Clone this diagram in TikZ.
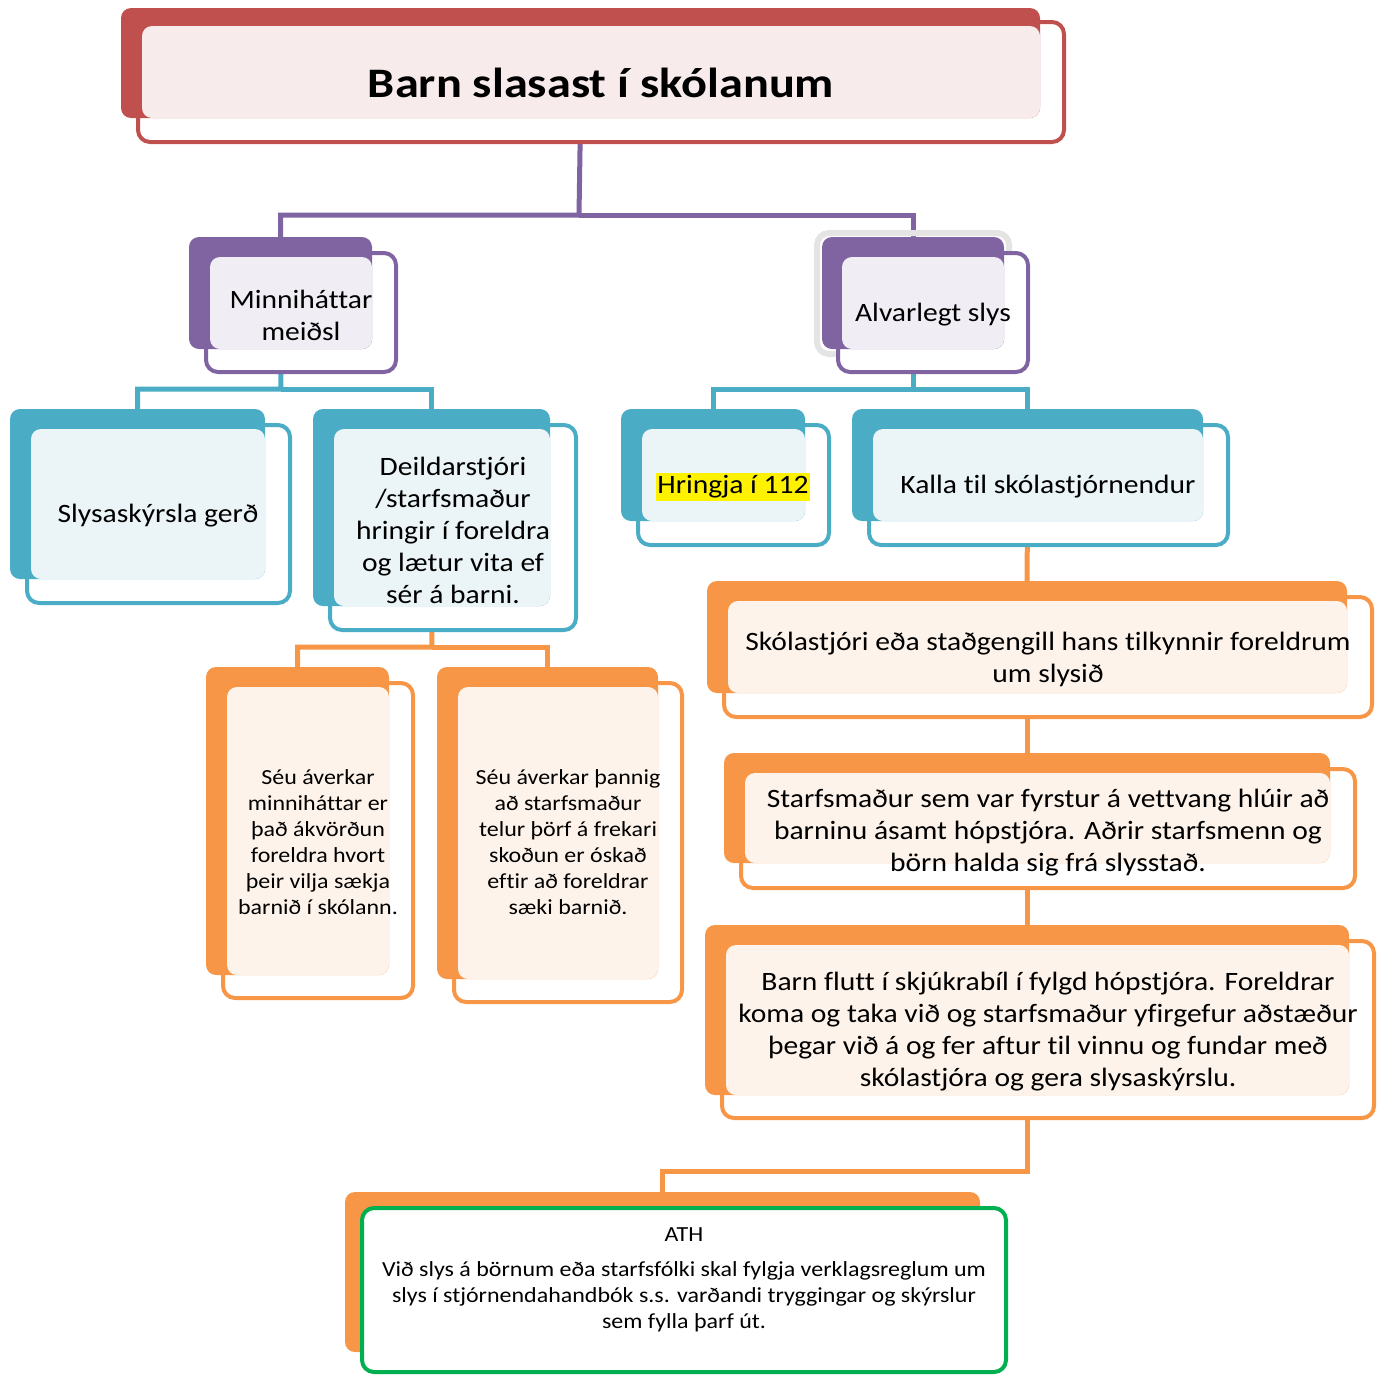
\documentclass[tikz,border=0pt]{standalone}
\usepackage{fontspec}
\setmainfont{Carlito}[FakeStretch=1.115, Ligatures=NoCommon]
\newfontfamily\titlefont{Carlito}[FakeStretch=1.15, Ligatures=NoCommon]
\usetikzlibrary{fit,calc}
\pgfdeclarelayer{bg}
\pgfsetlayers{bg,main}
\definecolor{cred}{HTML}{C0504D}
\definecolor{credtint}{HTML}{F7EBEB}
\definecolor{cpur}{HTML}{8064A2}
\definecolor{cpurtint}{HTML}{F0EEF4}
\definecolor{cteal}{HTML}{4BACC6}
\definecolor{ctealtint}{HTML}{EBF4F7}
\definecolor{corg}{HTML}{F79646}
\definecolor{corgtint}{HTML}{FEF3EA}
\definecolor{cgrn}{HTML}{00B050}
\definecolor{cglow}{HTML}{E4E4E4}
\tikzset{
  cardfront/.style={draw=#1, fill=white, line width=4pt, rounded corners=12pt, inner sep=0pt},
  cardback/.style={fill=#1, draw=none, rounded corners=10pt, inner sep=0pt},
  txt/.style={font=\fontsize{26.5}{32}\selectfont, align=center, inner sep=0pt, yshift=-2pt},
  smalltxt/.style={font=\fontsize{21.5}{26}\selectfont, align=center, inner sep=0pt},
  conn/.style={draw=#1, line width=5pt},
}
% #1 name, #2 colour, #3 back x1,y1, #4 back x2,y2, #5 front x1,y1, #6 front x2,y2
\newcommand\mycard[6]{%
  \coordinate (#1-f1) at (#5); \coordinate (#1-f2) at (#6);
  \coordinate (#1-b1) at (#3); \coordinate (#1-b2) at (#4);
  \node[cardfront=#2, fit=(#1-f1)(#1-f2)] (#1) {};
  \node[cardback=#2, fit=(#1-b1)(#1-b2)] (#1-b) {};
  \fill[#2tint, rounded corners=10pt] ($(#1-f1)+(4,4)$) rectangle (#1-b2);
}
\begin{document}
\begin{tikzpicture}[x=1pt,y=-1pt]
\useasboundingbox (0,0) rectangle (1382,1374);

% title
\mycard{title}{cred}{121,8}{1040,118}{138,22}{1064,142}
\node[font=\titlefont\fontsize{42}{50}\selectfont\bfseries, inner sep=0pt] (title-t) at (601,83) {Barn slasast í skólanum};

% level 2
\mycard{minni}{cpur}{189,237}{372,349}{206,253}{396,372}
\node[txt] (minni-t) at (301,313) {Minnih\'attar\\meiðsl};

\draw[cglow, line width=6pt, rounded corners=12pt] (817,233) rectangle (1009,354);
\mycard{alv}{cpur}{822,237}{1004,349}{838,253}{1028,372}
\node[txt] (alv-t) at (933,313) {Alvarlegt slys};

% level 3
\mycard{slysa}{cteal}{10,409}{265,579}{27,425}{290,603}
\node[txt] (slysa-t) at (158,514) {Slysaskýrsla gerð};

\mycard{deild}{cteal}{313,409}{550,606}{330,425}{576,630}
\node[txt] (deild-t) at (453,528) {Deildarstjóri\\/starfsmaður\\hringir í foreldra\\og lætur vita ef\\sér á barni.};

\mycard{hring}{cteal}{621,409}{805,521}{638,425}{829,545}
\node[txt, fill=yellow, inner xsep=1.5pt, inner ysep=3pt] (hring-t) at (733,485) {Hringja í 112};

\mycard{kalla}{cteal}{852,409}{1203,521}{869,425}{1228,545}
\node[txt] (kalla-t) at (1048,485) {Kalla til skólastjórnendur};

% level 4 left
\mycard{seu}{corg}{206,667}{389,975}{223,683}{413,998}
\node[smalltxt] (seu-t) at (318,842) {Séu áverkar\\minnih\'attar er\\það ákvörðun\\foreldra hvort\\þeir vilja sækja\\barnið í skólann.};

\mycard{seub}{corg}{437,667}{658,979}{454,683}{682,1002}
\node[smalltxt] (seub-t) at (568,842) {Séu áverkar þannig\\að starfsmaður\\telur þörf á frekari\\skoðun er óskað\\eftir að foreldrar\\sæki barnið.};

% right column
\mycard{skola}{corg}{707,581}{1347,693}{724,597}{1372,717}
\node[txt] (skola-t) at (1048,657) {Skólastjóri eða staðgengill hans tilkynnir foreldrum\\um slysið};

\mycard{starf}{corg}{724,753}{1330,863}{741,769}{1355,888}
\node[txt] (starf-t) at (1048,831) {Starfsmaður sem var fyrstur á vettvang hlúir að\\barninu ásamt hópstjóra. Aðrir starfsmenn og\\börn halda sig frá slysstað.};

\mycard{flutt}{corg}{705,925}{1349,1095}{722,941}{1374,1118}
\node[txt] (flutt-t) at (1048,1030) {Barn flutt í skjúkrabíl í fylgd hópstjóra. Foreldrar\\koma og taka við og starfsmaður yfirgefur aðstæður\\þegar við á og fer aftur til vinnu og fundar með\\skólastjóra og gera slysaskýrslu.};

% ATH box
\coordinate (ath-f1) at (362,1208); \coordinate (ath-f2) at (1006,1372);
\coordinate (ath-b1) at (345,1192); \coordinate (ath-b2) at (980,1352);
\node[cardback=corg, fit=(ath-b1)(ath-b2)] (ath-b) {};
\node[cardfront=cgrn, fit=(ath-f1)(ath-f2)] (ath) {};
\node[smalltxt] (ath-h) at (684,1235) {ATH};
\node[smalltxt] (ath-t) at (684,1297) {Við slys á börnum eða starfsfólki skal fylgja verklagsreglum um\\slys í stjórnendahandbók s.s. varðandi tryggingar og skýrslur\\sem fylla þarf út.};

% connectors
\begin{pgfonlayer}{bg}
\coordinate (j1) at (579,215);
\draw[conn=cpur] (title-b.south) -- (j1) -| (minni-b.north);
\draw[conn=cpur] (j1) -| (alv-b.north);
\coordinate (j2) at (281,389);
\draw[conn=cteal] (minni-b.south) -- (j2) -| (slysa-b.north);
\draw[conn=cteal] (j2) -| (deild-b.north);
\coordinate (j3) at (913,389);
\draw[conn=cteal] (alv-b.south) -- (j3) -| (hring-b.north);
\draw[conn=cteal] (j3) -| (kalla-b.north);
\coordinate (j4) at (432,647);
\draw[conn=corg] (deild-b.south) -- (j4) -| (seu-b.north);
\draw[conn=corg] (j4) -| (seub-b.north);
\draw[conn=corg] (kalla-b.south) -- (skola-b.north);
\draw[conn=corg] (skola-b.south) -- (starf-b.north);
\draw[conn=corg] (starf-b.south) -- (flutt-b.north);
\coordinate (j5) at (1027,1171);
\draw[conn=corg] (flutt-b.south) -- (j5) -| (ath-b.north);
\end{pgfonlayer}
\end{tikzpicture}
\end{document}
